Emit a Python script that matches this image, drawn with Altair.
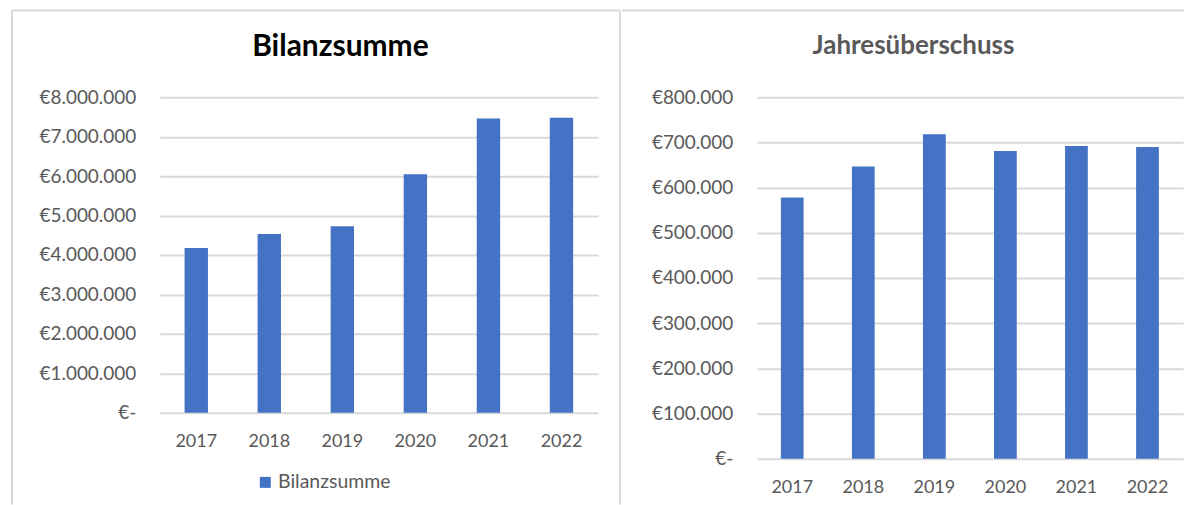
import altair as alt
import pandas as pd

years = ["2017", "2018", "2019", "2020", "2021", "2022"]
bilanzsumme = [4180000, 4530000, 4730000, 6050000, 7460000, 7480000]
jahresueberschuss = [578000, 647000, 718000, 681000, 692000, 690000]
bilanz_ticks = [0, 1000000, 2000000, 3000000, 4000000, 5000000, 6000000, 7000000, 8000000]
jahres_ticks = [0, 100000, 200000, 300000, 400000, 500000, 600000, 700000, 800000]
title_left = "Bilanzsumme"
title_right = "Jahresüberschuss"
series_name = "Bilanzsumme"

BLUE = "#4472C4"
GRAY = "#595959"
GRID = "#d9d9d9"
BORDER = "#d9d9d9"
FONT = "Lato"

label_expr = ("datum.value == 0 ? '€-' : '€' + "
              "replace(format(datum.value, ',.0f'), regexp(',', 'g'), '.')")

one = pd.DataFrame({"k": [0]})


def x_enc():
    return alt.X(
        "Jahr:N", sort=years,
        scale=alt.Scale(paddingInner=0.68, paddingOuter=0.34),
        axis=alt.Axis(title=None, labelAngle=0, domain=False, ticks=False,
                      labelPadding=20, labelFontSize=18, labelColor=GRAY,
                      labelFont=FONT, grid=False),
    )


def y_axis(ticks):
    return alt.Axis(title=None, values=ticks, labelExpr=label_expr, domain=False,
                    ticks=False, labelPadding=24, gridColor=GRID, gridWidth=2,
                    labelFontSize=19, labelColor=GRAY, labelFont=FONT)


def rule(x, x2, y, y2):
    return alt.Chart(one).mark_rule(color=BORDER, strokeWidth=2).encode(
        x=alt.value(x), x2=alt.value(x2), y=alt.value(y), y2=alt.value(y2))


# ---- left panel
df_b = pd.DataFrame({"Jahr": years, "Wert": bilanzsumme, "Serie": [series_name] * len(years)})
bars_b = alt.Chart(df_b).mark_bar().encode(
    x=x_enc(),
    y=alt.Y("Wert:Q", scale=alt.Scale(domain=[0, 8000000], nice=False), axis=y_axis(bilanz_ticks)),
    color=alt.Color("Serie:N", scale=alt.Scale(range=[BLUE]),
                    legend=alt.Legend(title=None, orient="none", legendX=96, legendY=376,
                                      symbolType="square", symbolSize=121, symbolStrokeWidth=0,
                                      labelFontSize=19.5, labelColor=GRAY, labelFont=FONT,
                                      labelOffset=3, direction="horizontal")),
)
t_b = alt.Chart(one).mark_text(text=title_left, font=FONT, fontWeight="bold", fontSize=30,
                               color="black", align="center", baseline="alphabetic").encode(
    x=alt.value(181), y=alt.value(-41))
left = alt.layer(
    bars_b, t_b,
    rule(-148, -148, -87, 408),   # left border
    rule(-148, 461, -87, -87),    # top border
    rule(461, 461, -87, 408),     # divider
).properties(width=439, height=316)

# ---- right panel
df_j = pd.DataFrame({"Jahr": years, "Wert": jahresueberschuss})
bars_j = alt.Chart(df_j).mark_bar(color=BLUE).encode(
    x=x_enc(),
    y=alt.Y("Wert:Q", scale=alt.Scale(domain=[0, 800000], nice=False), axis=y_axis(jahres_ticks)),
)
t_j = alt.Chart(one).mark_text(text=title_right, font=FONT, fontWeight="bold", fontSize=26,
                               color=GRAY, align="center", baseline="alphabetic").encode(
    x=alt.value(157), y=alt.value(-43))
right = alt.layer(
    bars_j, t_j,
    rule(-135, 428, -87, -87),    # top border
).properties(width=427, height=362)

chart = alt.hconcat(left, right, spacing=0).properties(
    padding={"left": 11, "top": 9, "right": 0, "bottom": 0},
    background="white",
).configure_view(stroke=None)

chart.save("out.html", embed_options={"renderer": "svg", "actions": False})
